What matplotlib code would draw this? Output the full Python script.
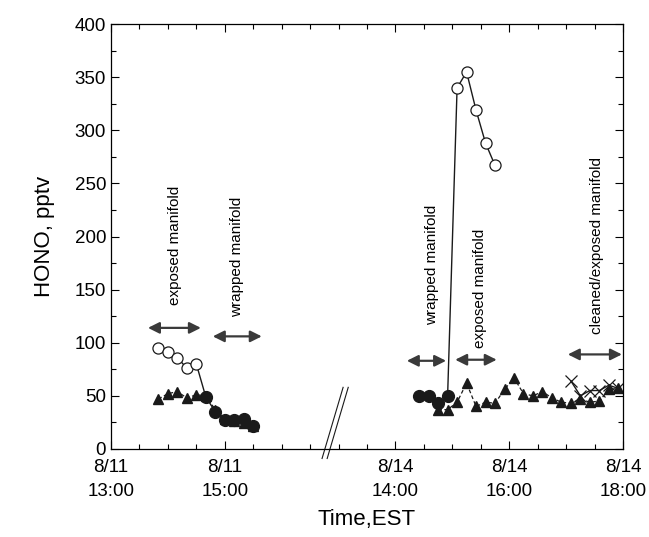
import matplotlib
matplotlib.use("Agg")
import matplotlib.pyplot as plt
from matplotlib.ticker import MultipleLocator

plt.rcParams['font.family'] = ['Liberation Sans', 'DejaVu Sans']

# ---- data (clock times, HONO in pptv) ----
day11_open_t = ["13:50", "14:00", "14:10", "14:20", "14:30"]
day11_open_v = [95, 91, 86, 76, 80]
day11_fill_t = ["14:40", "14:50", "15:00", "15:10", "15:20", "15:30"]
day11_fill_v = [49, 35, 27, 27, 28, 22]
day11_tri_t = ["13:50", "14:00", "14:10", "14:20", "14:30", "14:40",
               "14:50", "15:00", "15:10", "15:20", "15:30"]
day11_tri_v = [47, 52, 54, 48, 51, 50, 37, 28, 26, 24, 22]

day14_fill_t = ["14:25", "14:35", "14:45", "14:55"]
day14_fill_v = [50, 50, 43, 50]
day14_open_t = ["15:05", "15:15", "15:25", "15:35", "15:45"]
day14_open_v = [340, 355, 319, 288, 267]
day14_tri_t = ["14:45", "14:55", "15:05", "15:15", "15:25", "15:35", "15:45",
               "15:55", "16:05", "16:15", "16:25", "16:35", "16:45", "16:55",
               "17:05", "17:15", "17:25", "17:35", "17:45", "17:55"]
day14_tri_v = [37, 37, 44, 62, 40, 44, 43, 56, 67, 52, 50, 54, 48, 44,
               43, 47, 44, 45, 56, 57]
day14_x_t = ["17:05", "17:15", "17:25", "17:35", "17:45", "17:55"]
day14_x_v = [64, 50, 55, 55, 60, 57]

tick_pos = [0, 2, 5, 7, 9]
tick_labels = ["8/11\n13:00", "8/11\n15:00", "8/14\n14:00", "8/14\n16:00", "8/14\n18:00"]

# (label, x-start, x-end, arrow y, text x, text bottom y)
annots = [
    ("exposed manifold", 0.65, 1.58, 114, 1.13, 136),
    ("wrapped manifold", 1.79, 2.65, 106, 2.22, 124),
    ("wrapped manifold", 5.20, 5.89, 83, 5.64, 117),
    ("exposed manifold", 6.05, 6.78, 84, 6.49, 95),
    ("cleaned/exposed manifold", 8.03, 8.98, 89, 8.55, 108),
]


def to_axis(day, times):
    # broken axis: 8/11 13:00 -> 0, 8/14 14:00 -> 5 (one unit per hour)
    out = []
    for t in times:
        h, m = t.split(":")
        hrs = int(h) + int(m) / 60.0
        out.append(hrs - 13 if day == 11 else hrs - 14 + 5)
    return out


fig = plt.figure(figsize=(6.49, 5.37), dpi=100)
ax = fig.add_axes([0.171, 0.164, 0.789, 0.791])

k = '#1a1a1a'
tri_kw = dict(ls=(0, (3, 2)), lw=0.9, color=k, marker='^', ms=7.5, mfc=k, mec=k)
ax.plot(to_axis(11, day11_tri_t), day11_tri_v, **tri_kw)
ax.plot(to_axis(14, day14_tri_t), day14_tri_v, **tri_kw)

# circle series: open and filled circles joined by one solid line
for day, t1, v1, t2, v2 in [(11, day11_open_t, day11_open_v, day11_fill_t, day11_fill_v),
                            (14, day14_fill_t, day14_fill_v, day14_open_t, day14_open_v)]:
    ax.plot(to_axis(day, t1 + t2), v1 + v2, '-', color=k, lw=1.0)

ax.plot(to_axis(11, day11_open_t), day11_open_v, 'o', ms=8, mfc='white', mec=k, mew=0.9)
ax.plot(to_axis(14, day14_open_t), day14_open_v, 'o', ms=8, mfc='white', mec=k, mew=0.9)
ax.plot(to_axis(11, day11_fill_t), day11_fill_v, 'o', ms=8.5, mfc=k, mec=k)
ax.plot(to_axis(14, day14_fill_t), day14_fill_v, 'o', ms=8.5, mfc=k, mec=k)

ax.plot(to_axis(14, day14_x_t), day14_x_v, '-', color=k, lw=1.0,
        marker='x', ms=8, mew=0.9)

for label, x0, x1, ya, xt, yt in annots:
    ax.annotate('', xy=(x0, ya), xytext=(x1, ya),
                arrowprops=dict(arrowstyle='<|-|>', color='#3a3a3a', lw=1.6,
                                mutation_scale=17, shrinkA=0, shrinkB=0))
    ax.text(xt, yt, label, rotation=90, ha='center', va='bottom', fontsize=11)

# axis break marks
for dx in (0.0, 0.09):
    ax.plot([3.71 + dx, 4.08 + dx], [-9, 58], color=k, lw=0.8, clip_on=False)

ax.set_xlim(0, 9)
ax.set_ylim(0, 400)
ax.set_xticks(tick_pos)
ax.set_xticklabels(tick_labels, linespacing=1.6)
ax.xaxis.set_minor_locator(MultipleLocator(0.5))
ax.set_yticks(range(0, 401, 50))
ax.yaxis.set_minor_locator(MultipleLocator(25))
ax.tick_params(which='both', direction='in', top=True, right=True, labelsize=13.5, width=0.8)
ax.tick_params(which='major', length=6)
ax.tick_params(which='minor', length=3.5)
ax.tick_params(axis='x', which='major', pad=7)
for sp in ax.spines.values():
    sp.set_linewidth(0.9)

ax.set_ylabel('HONO, pptv', fontsize=16, labelpad=14)
ax.set_xlabel('Time,EST', fontsize=16, labelpad=6)

fig.savefig('out.png', dpi=100)
